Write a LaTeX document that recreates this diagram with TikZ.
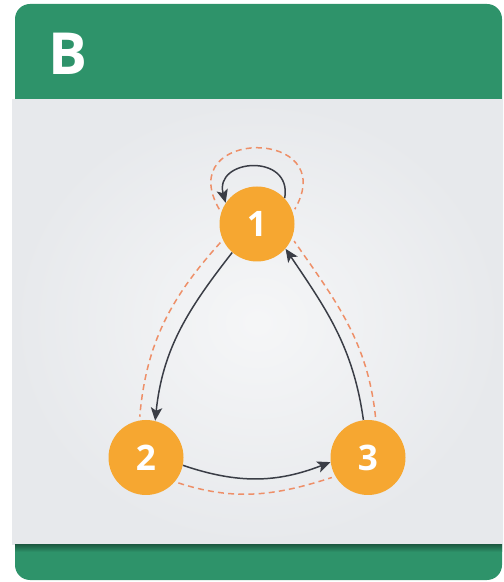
\documentclass[tikz,border=0pt]{standalone}
\usepackage{fontspec}
\setmainfont{Open Sans}
\usepackage{tikz}
\usetikzlibrary{arrows.meta,positioning}

\definecolor{cardgreen}{HTML}{2E936A}
\definecolor{bodygray}{HTML}{E7E9EC}
\definecolor{nodeorange}{HTML}{F6A731}
\definecolor{linkdark}{HTML}{3A3D46}
\definecolor{pathsalmon}{HTML}{EE8F68}

\begin{document}
\begin{tikzpicture}[on grid,
    >={Stealth[length=7.5pt,width=6.5pt,inset=1.8pt]},
    vertex/.style={circle,fill=nodeorange,minimum size=1.5cm,inner sep=0pt,
      text=white,font=\fontsize{20}{24}\selectfont\bfseries},
    link/.style={draw=linkdark,line width=0.85pt},
    walk/.style={draw=pathsalmon,line width=0.85pt,dash pattern=on 3.4pt off 2.4pt,
      shorten <=2pt,shorten >=2pt}]
    \useasboundingbox (0,0) rectangle (10.06,11.64);

    % card
    \fill[cardgreen,rounded corners=0.3cm] (0.30,9.30) rectangle (10.04,11.56);
    \fill[cardgreen,rounded corners=0.3cm] (0.30,0.04) rectangle (10.04,1.10);
    \shade[inner color=bodygray!40!white,outer color=bodygray] (0.24,0.74) rectangle (10.06,9.64);
    \shade[top color=cardgreen!65!black,bottom color=cardgreen] (0.30,0.60) rectangle (10.04,0.74);
    \node[text=white,font=\fontsize{33}{40}\selectfont\bfseries] (title) at (1.35,10.57) {B};

    % graph
    \node[vertex] (n1) at (5.14,7.16) {1};
    \node[vertex] (n2) [below left=4.67cm and 2.22cm of n1] {2};
    \node[vertex] (n3) [right=4.44cm of n2] {3};

    \draw[walk] (n1.162) to[out=120,in=60,looseness=3.5] (n1.18);
    \draw[walk] (n1.205) to[out=228,in=85] (n2.100);
    \draw[walk] (n2.-40) to[out=-18,in=198] (n3.210);
    \draw[walk] (n3.78) to[out=96,in=-55] (n1.338);

    \draw[link,->] (n1.43) to[out=80,in=105,looseness=2] (n1.146);
    \draw[link,->] (n1.229) to[out=232,in=84] (n2.76);
    \draw[link,->] (n2.-12) to[bend right=20] (n3.187);
    \draw[link,->] (n3.97) to[out=98,in=-56] (n1.319);
\end{tikzpicture}
\end{document}
